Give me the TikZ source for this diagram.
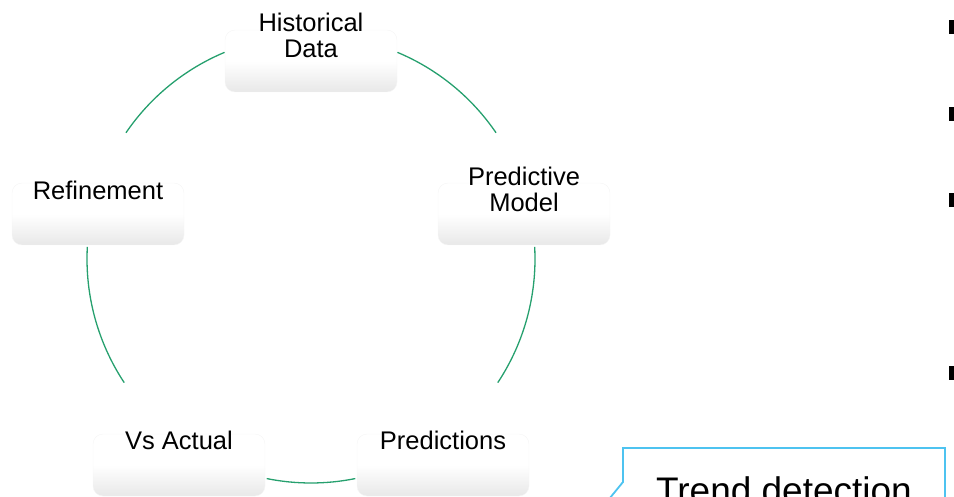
\documentclass[tikz,border=0pt]{standalone}
\usepackage{fontspec}
\setmainfont{Liberation Sans}
\definecolor{arcgreen}{RGB}{38,160,110}
\definecolor{callblue}{RGB}{77,195,240}
\begin{document}
\begin{tikzpicture}[x=1pt,y=1pt,
  itembox/.style={rounded corners=10pt, minimum width=172pt, minimum height=62pt,
    inner sep=0pt, top color=white, bottom color=black!9, middle color=white,
    draw=black!4, line width=0.4pt},
  itemtext/.style={align=center, inner sep=0pt, font=\fontsize{25.5}{26}\selectfont},
  cyc/.style={draw=arcgreen, line width=1.3pt},
  bulletsq/.style={fill=black, draw=none}]
\useasboundingbox (0,0) rectangle (954,-497);
\clip (0,0) rectangle (954,-497);
\coordinate (c) at (311,-259);
% boxes
\node[itembox] (hdbox) at (311,-61) {};
\node[itembox] (pmbox) at (524,-214) {};
\node[itembox] (prbox) at (443,-465) {};
\node[itembox] (vabox) at (179,-465) {};
\node[itembox] (rfbox) at (98,-214) {};
% texts
\node[itemtext] (hd) at (311,-35) {Historical\\Data};
\node[itemtext] (pm) at (524,-189) {Predictive\\Model};
\node[itemtext] (pr) at (443,-440) {Predictions};
\node[itemtext] (va) at (179,-440) {Vs Actual};
\node[itemtext] (rf) at (98,-190) {Refinement};
% arcs
\draw[cyc] ([shift={(67.3:224)}]c) arc[start angle=67.3, end angle=34.3, radius=224];
\draw[cyc] ([shift={(3.1:224)}]c) arc[start angle=3.1, end angle=-33.5, radius=224];
\draw[cyc] ([shift={(-78.6:224)}]c) arc[start angle=-78.6, end angle=-101.4, radius=224];
\draw[cyc] ([shift={(213.5:224)}]c) arc[start angle=213.5, end angle=176.9, radius=224];
\draw[cyc] ([shift={(145.7:224)}]c) arc[start angle=145.7, end angle=112.7, radius=224];
% callout
\coordinate (tailtip) at (596,-515);
\draw[callblue, line width=1.8pt, fill=white] (tailtip) -- (623,-482) -- (623,-448) -- (945,-448) -- (945,-530) -- (623,-530) -- (623,-505) -- cycle;
\node[anchor=base, inner sep=0pt, font=\fontsize{37}{40}\selectfont] (td) at (784,-503.5) {Trend detection};
% bullets
\fill[bulletsq] (949,-20) rectangle (955,-34);
\fill[bulletsq] (949,-107) rectangle (955,-121);
\fill[bulletsq] (949,-193) rectangle (955,-207);
\fill[bulletsq] (949,-366) rectangle (955,-380);
\end{tikzpicture}
\end{document}
